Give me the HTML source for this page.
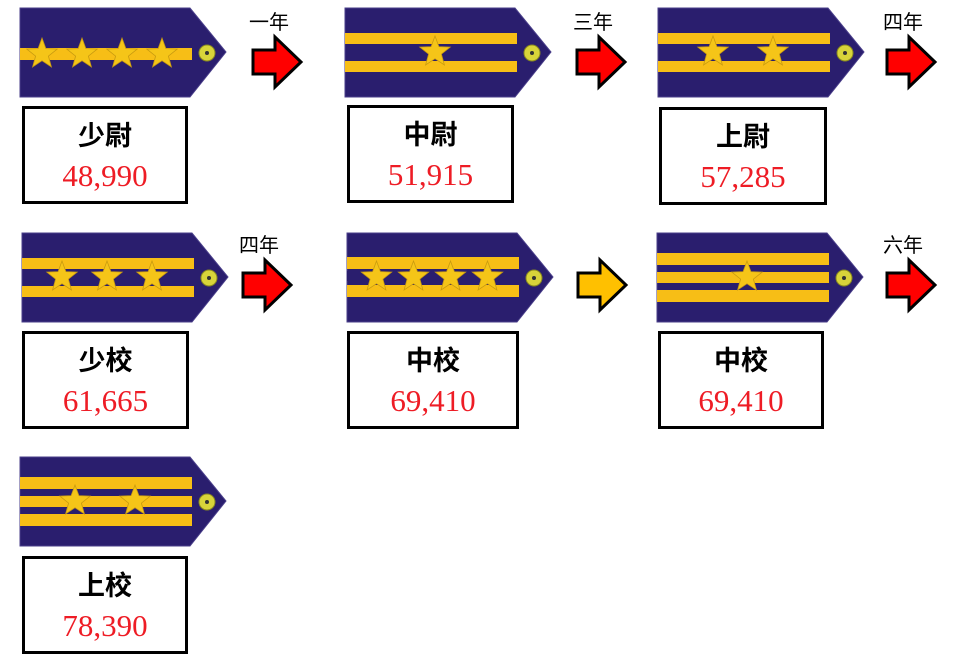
<!DOCTYPE html>
<html><head><meta charset="utf-8">
<style>
html,body{margin:0;padding:0;background:#fff;}
body{width:963px;height:666px;position:relative;overflow:hidden;}
.box{position:absolute;border:3px solid #000;box-sizing:border-box;background:#fff;text-align:center;}
.rank{position:absolute;left:0;right:0;top:12px;font-family:"Liberation Sans","Noto Sans CJK TC",sans-serif;font-weight:bold;font-size:27px;line-height:30px;color:#000;}
.pay{position:absolute;left:0;right:0;top:50px;font-family:"Liberation Serif","Noto Serif CJK SC",serif;font-size:31px;line-height:34px;color:#ee1c25;}
.yr{position:absolute;font-family:"Liberation Sans","Noto Sans CJK TC",sans-serif;font-size:20px;line-height:22px;color:#000;}
svg{position:absolute;left:0;top:0;}
</style></head>
<body>
<svg id="g" width="963" height="666"></svg>
<script>
const ranks=["少尉","中尉","上尉","少校","中校","中校","上校"];
const pays=["48,990","51,915","57,285","61,665","69,410","69,410","78,390"];
const stripeCounts=[1,2,2,2,2,3,3];
const starCounts=[4,1,2,3,4,1,2];
const years=["一年","三年","四年","四年","","六年"];
const arrowColors=["#ff0000","#ff0000","#ff0000","#ff0000","#ffc000","#ff0000"];
const epX=[20,345,658,22,347,657,20];
const epY=[8,8,8,233,233,233,457];
const boxX=[22,347,659,22,347,658,22];
const boxY=[106,105,107,331,331,331,556];
const boxW=[166,167,168,167,172,166,166];
const arX=[253,577,887,243,578,887];
const arY=[37,37,37,260,260,260];

const NS="http://www.w3.org/2000/svg";
const svg=document.getElementById('g');
function mk(t,a){const e=document.createElementNS(NS,t);for(const k in a)e.setAttribute(k,a[k]);return e;}
function star(cx,cy,r){let p=[];for(let i=0;i<10;i++){const rr=i%2?r*0.42:r;const an=-Math.PI/2+i*Math.PI/5;p.push((cx+rr*Math.cos(an)).toFixed(1)+","+(cy+rr*Math.sin(an)).toFixed(1));}return p.join(" ");}

for(let i=0;i<ranks.length;i++){
  const x=epX[i],y=epY[i];
  const g=mk('g',{});
  
  
  const body=mk('polygon',{points:`${x},${y} ${x+170},${y} ${x+206},${y+44} ${x+170},${y+89} ${x},${y+89}`,fill:'#2a1e6e',stroke:'#4a3f8a','stroke-width':1});
  g.appendChild(body);
  let ys=[];
  if(stripeCounts[i]===1)ys=[[40,12]];
  else if(stripeCounts[i]===2)ys=(i===4?[[24,12],[52,12]]:[[25,11],[53,11]]);
  else ys=[[20,12],[39,11],[57,12]];
  ys.forEach(s=>g.appendChild(mk('rect',{x:x,y:y+s[0],width:172,height:s[1],fill:'#f7be16'})));
  if(i===4)g.appendChild(mk('rect',{x:x,y:y+38,width:165,height:10,fill:'#2a1e6e'}));
  const n=starCounts[i];
  const cy=y+(stripeCounts[i]===1?46:44);
  const sp=n===1?0:(n===4?(i===0?40:37):(n===3?45:60));
  const cxc=x+(n===1?90:(i===0?82:85));
  for(let k=0;k<n;k++){
    const cx=cxc+(k-(n-1)/2)*sp;
    const st=mk('polygon',{points:star(cx,cy,16),fill:'#f5c518',stroke:'#c89a10','stroke-width':0.8});
    
    
    g.appendChild(st);
  }
  g.appendChild(mk('circle',{cx:x+187,cy:y+45,r:8,fill:'#d8d43a',stroke:'#8a8a20','stroke-width':1}));
  g.appendChild(mk('circle',{cx:x+187,cy:y+45,r:2,fill:'#333'}));
  svg.appendChild(g);

  const b=document.createElement('div');
  b.className='box';
  b.style.left=boxX[i]+'px';b.style.top=boxY[i]+'px';b.style.width=boxW[i]+'px';b.style.height='98px';
  
  
  const r=document.createElement('div');r.className='rank';r.textContent=ranks[i];
  
  
  const p=document.createElement('div');p.className='pay';p.textContent=pays[i];
  
  
  b.appendChild(r);b.appendChild(p);document.body.appendChild(b);
}
for(let i=0;i<arX.length;i++){
  const x=arX[i],y=arY[i];
  const a=mk('polygon',{points:`${x},${y+13} ${x+22},${y+13} ${x+22},${y} ${x+48},${y+25} ${x+22},${y+50} ${x+22},${y+37} ${x},${y+37}`,fill:arrowColors[i],stroke:'#000','stroke-width':3,'stroke-linejoin':'miter'});
  
  
  svg.appendChild(a);
  if(years[i]){
    const t=document.createElement('div');t.className='yr';t.textContent=years[i];
    t.style.left=(x-4)+'px';t.style.top=(y-25)+'px';
    
    
    document.body.appendChild(t);
  }
}
</script>
</body></html>
